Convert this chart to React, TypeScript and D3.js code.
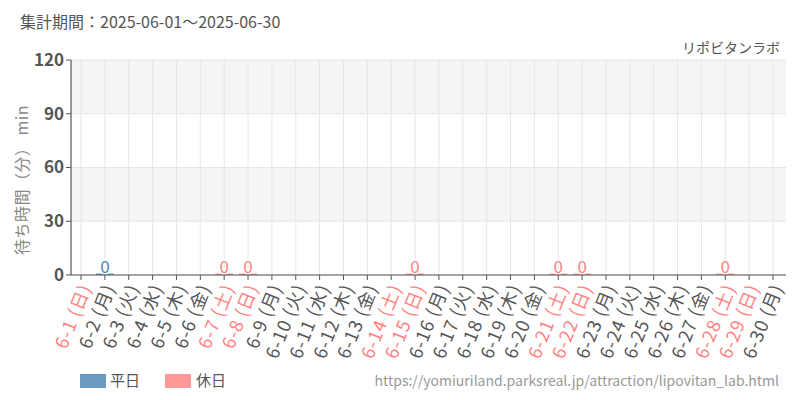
import React from 'react';
import * as d3 from 'd3';

const days: string[] = Array.from({ length: 30 }, (_, i) => `6-${i + 1}`);
const weekdays: string[] = [
  '日', '月', '火', '水', '木', '金', '土',
  '日', '月', '火', '水', '木', '金', '土',
  '日', '月', '火', '水', '木', '金', '土',
  '日', '月', '火', '水', '木', '金', '土',
  '日', '月',
];
// wait time per day (null = no data)
const waits: (number | null)[] = [
  null, 0, null, null, null, null, 0,
  0, null, null, null, null, null, null,
  0, null, null, null, null, null, 0,
  0, null, null, null, null, null, 0,
  null, null,
];
const yTicks = [0, 30, 60, 90, 120];

const W = 800;
const H = 400;
const plot = { left: 71, right: 786, top: 60, bottom: 275 };

const BLUE = '#6a9bc3';
const BLUE_TXT = '#4a86b8';
const RED = '#ff9999';
const RED_TXT = '#ff7f7f';
const FONT = '"Noto Sans CJK JP", "Noto Sans", sans-serif';

const isHoliday = (w: string) => w === '土' || w === '日';

export default function App() {
  const x = d3.scalePoint<string>().domain(days).range([81, 773]);
  const y = d3.scaleLinear().domain([0, 120]).range([plot.bottom, plot.top]);
  const barW = 18;

  return (
    <svg width={W} height={H} style={{ position: 'absolute', left: 0, top: 0, fontFamily: FONT }}>
      <rect width={W} height={H} fill="#fff" />
      <text x={20} y={28} fontSize={16} fill="#555">集計期間：2025-06-01～2025-06-30</text>
      <text x={780} y={53} fontSize={14} fill="#555" textAnchor="end">リポビタンラボ</text>

      {/* alternating bands */}
      {yTicks.slice(0, -1).map((t, i) => (
        <rect
          key={t}
          x={plot.left}
          y={y(yTicks[i + 1])}
          width={plot.right - plot.left}
          height={y(t) - y(yTicks[i + 1])}
          fill={i % 2 === 1 ? '#f5f5f5' : '#fff'}
        />
      ))}
      {days.map((d) => (
        <line key={d} x1={x(d)} x2={x(d)} y1={plot.top} y2={plot.bottom} stroke="#e6e6e6" />
      ))}
      {yTicks.map((t) => (
        <line key={t} x1={plot.left} x2={plot.right} y1={y(t)} y2={y(t)} stroke="#e6e6e6" />
      ))}

      {/* bars */}
      {days.map((d, i) => {
        const v = waits[i];
        if (v === null) return null;
        const hol = isHoliday(weekdays[i]);
        const top = y(v);
        const h = Math.max(y(0) - top, 1.5);
        return (
          <g key={d}>
            <rect x={x(d)! - barW / 2} y={y(0) - h} width={barW} height={h} fill={hol ? RED : BLUE} />
            <text
              x={x(d)}
              y={top - 2}
              textAnchor="middle"
              fontSize={17}
              fill={hol ? RED_TXT : BLUE_TXT}
              stroke="#fff"
              strokeWidth={3}
              paintOrder="stroke"
            >
              {v}
            </text>
          </g>
        );
      })}

      {/* y axis */}
      <line x1={plot.left} x2={plot.left} y1={plot.top} y2={plot.bottom} stroke="#555" strokeWidth={1.2} />
      {yTicks.map((t) => (
        <g key={t}>
          <line x1={plot.left - 5} x2={plot.left} y1={y(t)} y2={y(t)} stroke="#555" />
          <text x={plot.left - 7} y={y(t)} dy="0.35em" textAnchor="end" fontSize={17} fontWeight="bold" fill="#555">
            {t}
          </text>
        </g>
      ))}
      <text
        transform={`translate(22, 180) rotate(-90)`}
        textAnchor="middle"
        dy="0.35em"
        fontSize={16}
        letterSpacing={0.5}
        fill="#888"
      >
        待ち時間（分） min
      </text>

      {/* x axis */}
      <line x1={plot.left} x2={plot.right} y1={plot.bottom} y2={plot.bottom} stroke="#555" strokeWidth={1.2} />
      {days.map((d, i) => (
        <g key={d}>
          <line x1={x(d)} x2={x(d)} y1={plot.bottom} y2={plot.bottom + 5} stroke="#555" />
          <text
            transform={`translate(${x(d)! + 5}, ${plot.bottom + 10}) rotate(-68)`}
            textAnchor="end"
            dy="0.35em"
            fontSize={18}
            letterSpacing={1}
            fill={isHoliday(weekdays[i]) ? RED_TXT : '#555'}
          >
            {`${d} (${weekdays[i]})`}
          </text>
        </g>
      ))}

      {/* legend */}
      <rect x={80} y={374} width={26} height={14} fill={BLUE} />
      <text x={110} y={381} dy="0.35em" fontSize={15} fill="#555">平日</text>
      <rect x={165} y={374} width={26} height={14} fill={RED} />
      <text x={196} y={381} dy="0.35em" fontSize={15} fill="#555">休日</text>
      <text x={779} y={381} dy="0.35em" textAnchor="end" fontSize={14} fill="#999">
        https://yomiuriland.parksreal.jp/attraction/lipovitan_lab.html
      </text>
    </svg>
  );
}
